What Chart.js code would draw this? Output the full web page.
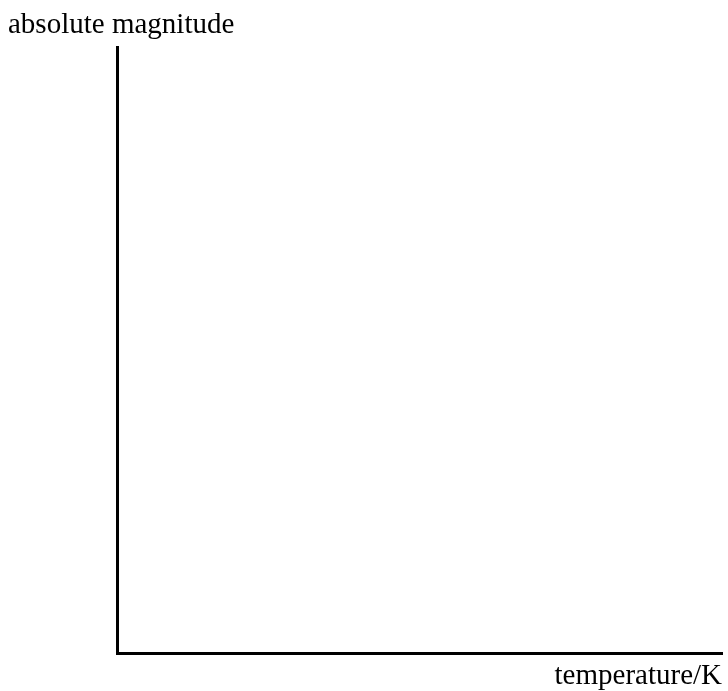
<!DOCTYPE html>
<html>
<head>
<meta charset="utf-8">
<script src="https://cdn.jsdelivr.net/npm/chart.js@4/dist/chart.umd.min.js"></script>
<style>
  body { margin: 0; background: #fff; }
  #wrap { width: 728px; height: 691px; }
</style>
</head>
<body>
<div id="wrap"><canvas id="chart" width="728" height="691"></canvas></div>
<script>
// blank axes sketch: no stars plotted yet
const temperatures = [];
const magnitudes = [];
const yLabel = "absolute magnitude";
const xLabel = "temperature/K";

const points = temperatures.map((t, i) => ({ x: t, y: magnitudes[i] }));
const labelFont = { family: "'Liberation Serif', 'Times New Roman', serif", size: 29, weight: "normal", lineHeight: 1 };

const axisBase = {
    type: "linear",
    min: 0,
    max: 1,
    ticks: { display: false },
    grid: { display: false, drawTicks: false },
    border: { display: true, color: "#000", width: 3 },
};

new Chart(document.getElementById("chart"), {
    type: "scatter",
    data: {
        datasets: [
            { label: "stars", data: points, backgroundColor: "#000" },
        ],
    },
    options: {
        responsive: false,
        animation: false,
        devicePixelRatio: 1,
        layout: { padding: { left: 8, right: 6, top: 0, bottom: 0 } },
        plugins: {
            legend: { display: false },
            tooltip: { enabled: false },
            title: {
                display: true,
                text: yLabel,
                align: "start",
                color: "#000",
                font: labelFont,
                padding: { top: 11, bottom: 7 },
            },
        },
        scales: {
            x: {
                ...axisBase,
                title: {
                    display: true,
                    text: xLabel,
                    align: "end",
                    color: "#000",
                    font: labelFont,
                    padding: { top: 8.5, bottom: 0 },
                },
            },
            y: {
                ...axisBase,
                afterFit: (scale) => { scale.width = 109; },
            },
        },
    },
});
</script>
</body>
</html>
